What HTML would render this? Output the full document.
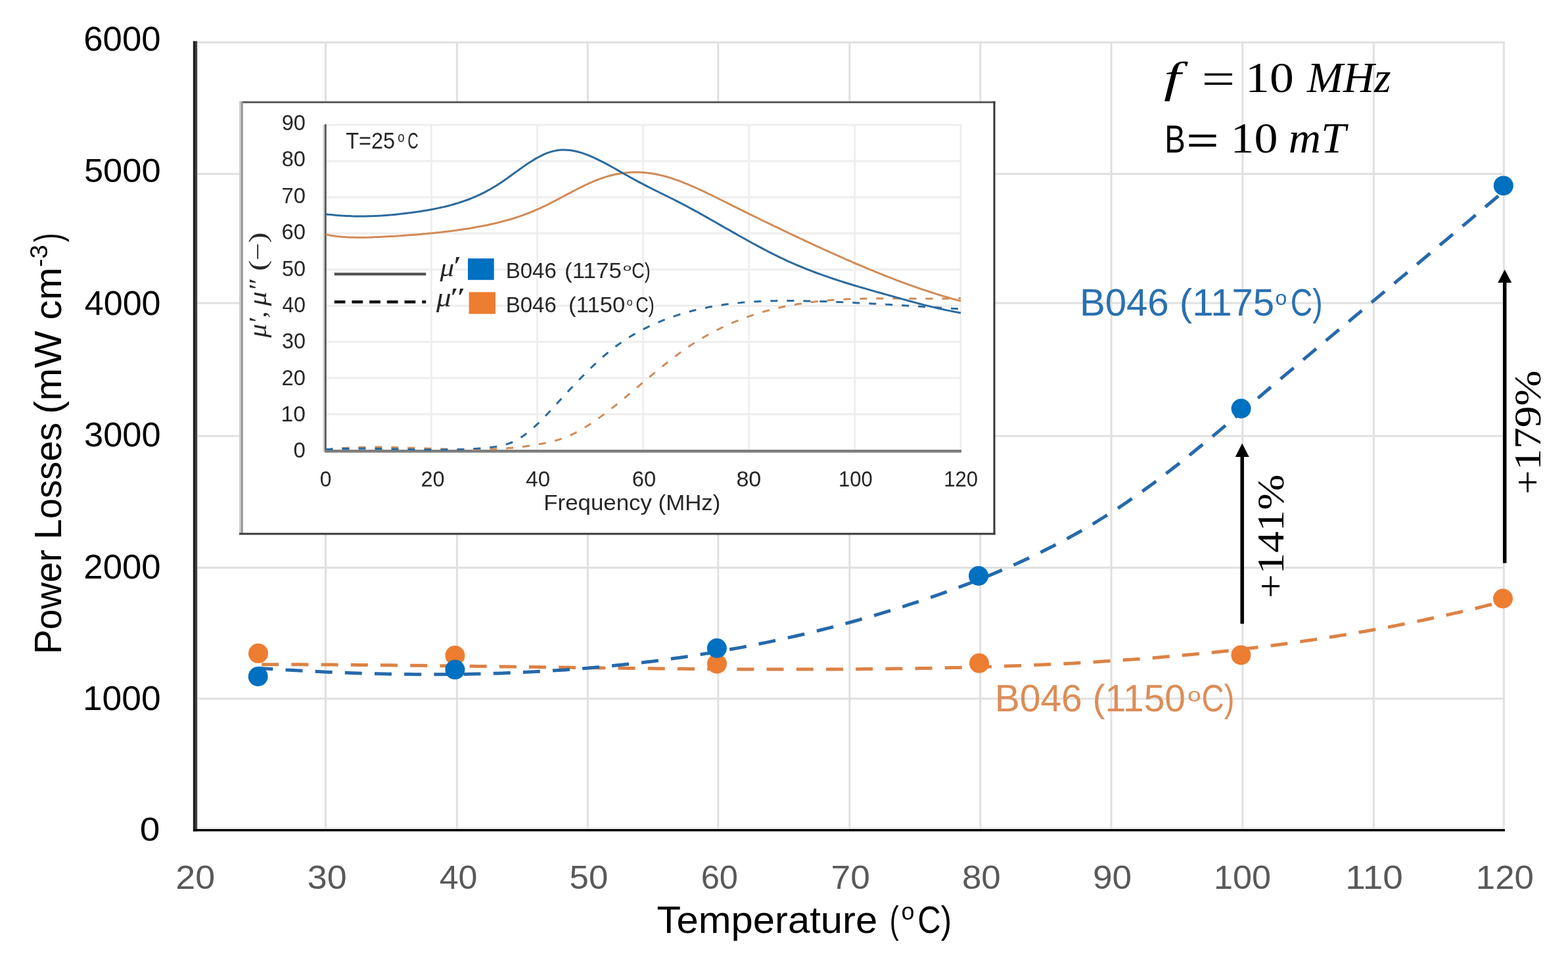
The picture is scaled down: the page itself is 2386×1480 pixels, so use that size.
<!DOCTYPE html>
<html><head><meta charset="utf-8"><title>Power losses vs temperature</title>
<style>html,body{margin:0;padding:0;background:#fff;overflow:hidden}svg{display:block}</style></head>
<body><svg width="2386" height="1480" viewBox="0 0 2386 1480">
<rect x="0" y="0" width="2386" height="1480" fill="#ffffff"/>
<g stroke="#e0e0e0" stroke-width="3"><line x1="297.0" y1="64.4" x2="2289.8" y2="64.4"/><line x1="297.0" y1="264.4" x2="2289.8" y2="264.4"/><line x1="297.0" y1="461.0" x2="2289.8" y2="461.0"/><line x1="297.0" y1="663.2" x2="2289.8" y2="663.2"/><line x1="297.0" y1="863.4" x2="2289.8" y2="863.4"/><line x1="297.0" y1="1062.7" x2="2289.8" y2="1062.7"/><line x1="495.5" y1="62.900000000000006" x2="495.5" y2="1262.3"/><line x1="695.4" y1="62.900000000000006" x2="695.4" y2="1262.3"/><line x1="894.3" y1="62.900000000000006" x2="894.3" y2="1262.3"/><line x1="1092.8" y1="62.900000000000006" x2="1092.8" y2="1262.3"/><line x1="1292.8" y1="62.900000000000006" x2="1292.8" y2="1262.3"/><line x1="1491.8" y1="62.900000000000006" x2="1491.8" y2="1262.3"/><line x1="1691.0" y1="62.900000000000006" x2="1691.0" y2="1262.3"/><line x1="1890.8" y1="62.900000000000006" x2="1890.8" y2="1262.3"/><line x1="2090.3" y1="62.900000000000006" x2="2090.3" y2="1262.3"/><line x1="2288.3" y1="62.900000000000006" x2="2288.3" y2="1262.3"/><line x1="297.0" y1="1259.3" x2="2289.8" y2="1259.3" stroke="#ececec" stroke-width="2"/></g>
<line x1="295.4" y1="62.5" x2="295.4" y2="1264.5" stroke="#1f1f1f" stroke-width="3.2"/>
<line x1="298.6" y1="62.5" x2="298.6" y2="1264.5" stroke="#414141" stroke-width="3.2"/>
<line x1="294" y1="1262.72" x2="2290" y2="1262.72" stroke="#050505" stroke-width="3.45"/>
<text x="127.32" y="77.20" font-family='"Liberation Sans", Arial, sans-serif' font-size="51.13" fill="#000" textLength="117.23" lengthAdjust="spacingAndGlyphs">6000</text>
<text x="127.90" y="277.30" font-family='"Liberation Sans", Arial, sans-serif' font-size="50.85" fill="#000" textLength="116.65" lengthAdjust="spacingAndGlyphs">5000</text>
<text x="128.81" y="479.29" font-family='"Liberation Sans", Arial, sans-serif' font-size="51.98" fill="#000" textLength="115.73" lengthAdjust="spacingAndGlyphs">4000</text>
<text x="128.00" y="679.49" font-family='"Liberation Sans", Arial, sans-serif' font-size="51.98" fill="#000" textLength="116.54" lengthAdjust="spacingAndGlyphs">3000</text>
<text x="127.35" y="879.69" font-family='"Liberation Sans", Arial, sans-serif' font-size="51.98" fill="#000" textLength="117.21" lengthAdjust="spacingAndGlyphs">2000</text>
<text x="125.94" y="1079.89" font-family='"Liberation Sans", Arial, sans-serif' font-size="51.98" fill="#000" textLength="118.65" lengthAdjust="spacingAndGlyphs">1000</text>
<text x="212.85" y="1278.52" font-family='"Liberation Sans", Arial, sans-serif' font-size="49.58" fill="#000" textLength="30.60" lengthAdjust="spacingAndGlyphs">0</text>
<text x="267.30" y="1351.70" font-family='"Liberation Sans", Arial, sans-serif' font-size="50.85" fill="#595959" textLength="59.80" lengthAdjust="spacingAndGlyphs">20</text>
<text x="467.85" y="1351.70" font-family='"Liberation Sans", Arial, sans-serif' font-size="50.85" fill="#595959" textLength="59.85" lengthAdjust="spacingAndGlyphs">30</text>
<text x="668.66" y="1351.70" font-family='"Liberation Sans", Arial, sans-serif' font-size="50.85" fill="#595959" textLength="57.72" lengthAdjust="spacingAndGlyphs">40</text>
<text x="866.64" y="1351.70" font-family='"Liberation Sans", Arial, sans-serif' font-size="50.85" fill="#595959" textLength="58.67" lengthAdjust="spacingAndGlyphs">50</text>
<text x="1066.63" y="1351.70" font-family='"Liberation Sans", Arial, sans-serif' font-size="50.85" fill="#595959" textLength="56.35" lengthAdjust="spacingAndGlyphs">60</text>
<text x="1264.52" y="1351.70" font-family='"Liberation Sans", Arial, sans-serif' font-size="50.85" fill="#595959" textLength="59.32" lengthAdjust="spacingAndGlyphs">70</text>
<text x="1463.95" y="1351.70" font-family='"Liberation Sans", Arial, sans-serif' font-size="50.85" fill="#595959" textLength="58.87" lengthAdjust="spacingAndGlyphs">80</text>
<text x="1662.96" y="1351.70" font-family='"Liberation Sans", Arial, sans-serif' font-size="50.85" fill="#595959" textLength="59.06" lengthAdjust="spacingAndGlyphs">90</text>
<text x="1847.13" y="1351.70" font-family='"Liberation Sans", Arial, sans-serif' font-size="50.85" fill="#595959" textLength="87.01" lengthAdjust="spacingAndGlyphs">100</text>
<text x="2047.25" y="1351.70" font-family='"Liberation Sans", Arial, sans-serif' font-size="50.85" fill="#595959" textLength="87.55" lengthAdjust="spacingAndGlyphs">110</text>
<text x="2245.77" y="1351.70" font-family='"Liberation Sans", Arial, sans-serif' font-size="50.85" fill="#595959" textLength="88.19" lengthAdjust="spacingAndGlyphs">120</text>
<text x="999.48" y="1419.00" font-family='"Liberation Sans", Arial, sans-serif' font-size="57.5" fill="#000" textLength="335.82" lengthAdjust="spacingAndGlyphs">Temperature</text>
<text x="1353.80" y="1419.00" font-family='"Liberation Sans", Arial, sans-serif' font-size="57.5" fill="#000" textLength="13.94" lengthAdjust="spacingAndGlyphs">(</text>
<text x="1371.49" y="1399.03" font-family='"Liberation Sans", Arial, sans-serif' font-size="37.78" fill="#000" textLength="20.02" lengthAdjust="spacingAndGlyphs">o</text>
<text x="1396.21" y="1419.00" font-family='"Liberation Sans", Arial, sans-serif' font-size="57.5" fill="#000" textLength="51.84" lengthAdjust="spacingAndGlyphs">C)</text>
<g transform="translate(92.8,995.5) rotate(-90)"><text x="0.40" y="0.00" font-family='"Liberation Sans", Arial, sans-serif' font-size="58" fill="#000" textLength="352.53" lengthAdjust="spacingAndGlyphs">Power Losses</text><text x="365.78" y="0.00" font-family='"Liberation Sans", Arial, sans-serif' font-size="58" fill="#000" textLength="223.07" lengthAdjust="spacingAndGlyphs">(mW cm</text><text x="589.31" y="-20.57" font-family='"Liberation Sans", Arial, sans-serif' font-size="37.85" fill="#000" textLength="33.87" lengthAdjust="spacingAndGlyphs">-3</text><text x="627.26" y="0.00" font-family='"Liberation Sans", Arial, sans-serif' font-size="58" fill="#000" textLength="13.82" lengthAdjust="spacingAndGlyphs">)</text></g>
<path d="M393.0 1010.7 L402.5 1010.7 L412.0 1010.7 L421.6 1010.7 L431.1 1010.8 L440.6 1010.8 L450.1 1010.8 L459.6 1010.8 L469.1 1010.9 L478.7 1010.9 L488.2 1011.0 L497.7 1011.0 L507.2 1011.1 L516.7 1011.2 L526.2 1011.2 L535.8 1011.3 L545.3 1011.4 L554.8 1011.5 L564.3 1011.5 L573.8 1011.6 L583.4 1011.7 L592.9 1011.8 L602.4 1011.9 L611.9 1012.0 L621.4 1012.1 L630.9 1012.2 L640.5 1012.3 L650.0 1012.4 L659.5 1012.6 L669.0 1012.7 L678.5 1012.8 L688.0 1012.9 L697.6 1013.0 L707.1 1013.1 L716.6 1013.3 L726.1 1013.4 L735.6 1013.5 L745.2 1013.7 L754.7 1013.8 L764.2 1013.9 L773.7 1014.0 L783.2 1014.2 L792.7 1014.3 L802.3 1014.4 L811.8 1014.6 L821.3 1014.7 L830.8 1014.8 L840.3 1014.9 L849.8 1015.1 L859.4 1015.2 L868.9 1015.3 L878.4 1015.5 L887.9 1015.6 L897.4 1015.7 L906.9 1015.8 L916.5 1015.9 L926.0 1016.1 L935.5 1016.2 L945.0 1016.3 L954.5 1016.4 L964.1 1016.5 L973.6 1016.6 L983.1 1016.7 L992.6 1016.8 L1002.1 1016.9 L1011.6 1017.0 L1021.2 1017.1 L1030.7 1017.2 L1040.2 1017.3 L1049.7 1017.4 L1059.2 1017.5 L1068.7 1017.5 L1078.3 1017.6 L1087.8 1017.7 L1097.3 1017.7 L1106.8 1017.8 L1116.3 1017.9 L1125.9 1017.9 L1135.4 1017.9 L1144.9 1018.0 L1154.4 1018.0 L1163.9 1018.0 L1173.4 1018.1 L1183.0 1018.1 L1192.5 1018.1 L1202.0 1018.1 L1211.5 1018.1 L1221.0 1018.1 L1230.5 1018.1 L1240.1 1018.1 L1249.6 1018.0 L1259.1 1018.0 L1268.6 1018.0 L1278.1 1017.9 L1287.7 1017.9 L1297.2 1017.8 L1306.7 1017.7 L1316.2 1017.6 L1325.7 1017.6 L1335.2 1017.5 L1344.8 1017.4 L1354.3 1017.3 L1363.8 1017.1 L1373.3 1017.0 L1382.8 1016.9 L1392.3 1016.7 L1401.9 1016.6 L1411.4 1016.4 L1420.9 1016.2 L1430.4 1016.0 L1439.9 1015.8 L1449.5 1015.6 L1459.0 1015.4 L1468.5 1015.1 L1478.0 1014.9 L1487.5 1014.6 L1497.0 1014.3 L1506.6 1014.0 L1516.1 1013.7 L1525.6 1013.4 L1535.1 1013.1 L1544.6 1012.7 L1554.1 1012.4 L1563.7 1012.0 L1573.2 1011.6 L1582.7 1011.2 L1592.2 1010.8 L1601.7 1010.3 L1611.3 1009.9 L1620.8 1009.4 L1630.3 1008.9 L1639.8 1008.4 L1649.3 1007.8 L1658.8 1007.3 L1668.4 1006.7 L1677.9 1006.1 L1687.4 1005.5 L1696.9 1004.9 L1706.4 1004.2 L1715.9 1003.6 L1725.5 1002.9 L1735.0 1002.2 L1744.5 1001.4 L1754.0 1000.7 L1763.5 999.9 L1773.1 999.1 L1782.6 998.3 L1792.1 997.5 L1801.6 996.6 L1811.1 995.7 L1820.6 994.8 L1830.2 993.9 L1839.7 992.9 L1849.2 991.9 L1858.7 990.9 L1868.2 989.9 L1877.7 988.8 L1887.3 987.7 L1896.8 986.6 L1906.3 985.5 L1915.8 984.3 L1925.3 983.1 L1934.8 981.9 L1944.4 980.7 L1953.9 979.4 L1963.4 978.1 L1972.9 976.8 L1982.4 975.4 L1992.0 974.0 L2001.5 972.6 L2011.0 971.2 L2020.5 969.7 L2030.0 968.2 L2039.5 966.6 L2049.1 965.1 L2058.6 963.5 L2068.1 961.8 L2077.6 960.2 L2087.1 958.5 L2096.6 956.8 L2106.2 955.0 L2115.7 953.2 L2125.2 951.4 L2134.7 949.5 L2144.2 947.6 L2153.8 945.7 L2163.3 943.7 L2172.8 941.7 L2182.3 939.7 L2191.8 937.6 L2201.3 935.5 L2210.9 933.4 L2220.4 931.2 L2229.9 929.0 L2239.4 926.7 L2248.9 924.5 L2258.4 922.1 L2268.0 919.8 L2277.5 917.4 L2287.0 914.9" fill="none" stroke="#dc8245" stroke-width="5" stroke-dasharray="26.0 19.20" stroke-dashoffset="40.01"/>
<circle cx="393" cy="993.8" r="15" fill="#ed7d31"/>
<circle cx="692.4" cy="997" r="15" fill="#ed7d31"/>
<circle cx="1091" cy="1009.7" r="15" fill="#ed7d31"/>
<circle cx="1490" cy="1008.8" r="15" fill="#ed7d31"/>
<circle cx="1888.4" cy="996.4" r="15" fill="#ed7d31"/>
<circle cx="2287" cy="910.5" r="15" fill="#ed7d31"/>
<path d="M393.0 1016.2 L402.5 1016.9 L412.0 1017.5 L421.6 1018.1 L431.1 1018.7 L440.6 1019.2 L450.1 1019.8 L459.7 1020.3 L469.2 1020.8 L478.7 1021.3 L488.2 1021.7 L497.7 1022.2 L507.3 1022.6 L516.8 1023.0 L526.3 1023.3 L535.8 1023.7 L545.3 1024.0 L554.9 1024.3 L564.4 1024.5 L573.9 1024.8 L583.4 1025.0 L593.0 1025.2 L602.5 1025.4 L612.0 1025.5 L621.5 1025.6 L631.0 1025.7 L640.6 1025.8 L650.1 1025.8 L659.6 1025.8 L669.1 1025.8 L678.6 1025.7 L688.2 1025.6 L697.7 1025.5 L707.2 1025.4 L716.7 1025.2 L726.3 1025.0 L735.8 1024.8 L745.3 1024.5 L754.8 1024.2 L764.3 1023.9 L773.9 1023.5 L783.4 1023.2 L792.9 1022.7 L802.4 1022.3 L812.0 1021.8 L821.5 1021.3 L831.0 1020.7 L840.5 1020.1 L850.0 1019.5 L859.6 1018.9 L869.1 1018.2 L878.6 1017.5 L888.1 1016.7 L897.6 1015.9 L907.2 1015.1 L916.7 1014.2 L926.2 1013.3 L935.7 1012.3 L945.3 1011.3 L954.8 1010.3 L964.3 1009.3 L973.8 1008.2 L983.3 1007.0 L992.9 1005.9 L1002.4 1004.6 L1011.9 1003.4 L1021.4 1002.1 L1030.9 1000.7 L1040.5 999.4 L1050.0 998.0 L1059.5 996.5 L1069.0 995.0 L1078.6 993.4 L1088.1 991.9 L1097.6 990.2 L1107.1 988.6 L1116.6 986.8 L1126.2 985.1 L1135.7 983.3 L1145.2 981.4 L1154.7 979.5 L1164.3 977.6 L1173.8 975.6 L1183.3 973.6 L1192.8 971.5 L1202.3 969.4 L1211.9 967.2 L1221.4 965.0 L1230.9 962.7 L1240.4 960.4 L1249.9 958.0 L1259.5 955.6 L1269.0 953.2 L1278.5 950.7 L1288.0 948.1 L1297.6 945.5 L1307.1 942.8 L1316.6 940.1 L1326.1 937.4 L1335.6 934.6 L1345.2 931.7 L1354.7 928.8 L1364.2 925.8 L1373.7 922.8 L1383.2 919.7 L1392.8 916.6 L1402.3 913.4 L1411.8 910.2 L1421.3 906.9 L1430.9 903.6 L1440.4 900.2 L1449.9 896.7 L1459.4 893.2 L1468.9 889.6 L1478.5 886.0 L1488.0 882.3 L1497.5 878.5 L1507.0 874.6 L1516.5 870.6 L1526.1 866.6 L1535.6 862.4 L1545.1 858.2 L1554.6 853.9 L1564.2 849.5 L1573.7 845.0 L1583.2 840.3 L1592.7 835.6 L1602.2 830.8 L1611.8 825.8 L1621.3 820.7 L1630.8 815.5 L1640.3 810.2 L1649.9 804.7 L1659.4 799.1 L1668.9 793.4 L1678.4 787.5 L1687.9 781.5 L1697.5 775.4 L1707.0 769.1 L1716.5 762.6 L1726.0 756.0 L1735.5 749.3 L1745.1 742.4 L1754.6 735.4 L1764.1 728.2 L1773.6 721.0 L1783.2 713.6 L1792.7 706.2 L1802.2 698.6 L1811.7 691.0 L1821.2 683.3 L1830.8 675.5 L1840.3 667.7 L1849.8 659.8 L1859.3 651.8 L1868.8 643.8 L1878.4 635.8 L1887.9 627.8 L1897.4 619.7 L1906.9 611.6 L1916.5 603.6 L1926.0 595.5 L1935.5 587.4 L1945.0 579.4 L1954.5 571.3 L1964.1 563.3 L1973.6 555.3 L1983.1 547.2 L1992.6 539.2 L2002.2 531.2 L2011.7 523.2 L2021.2 515.2 L2030.7 507.2 L2040.2 499.2 L2049.8 491.2 L2059.3 483.2 L2068.8 475.3 L2078.3 467.3 L2087.8 459.3 L2097.4 451.3 L2106.9 443.4 L2116.4 435.4 L2125.9 427.4 L2135.5 419.4 L2145.0 411.5 L2154.5 403.5 L2164.0 395.5 L2173.5 387.5 L2183.1 379.5 L2192.6 371.5 L2202.1 363.6 L2211.6 355.6 L2221.1 347.6 L2230.7 339.6 L2240.2 331.6 L2249.7 323.5 L2259.2 315.5 L2268.8 307.5 L2278.3 299.5 L2287.8 291.4" fill="none" stroke="#2569ab" stroke-width="5" stroke-dasharray="26.0 19.20" stroke-dashoffset="3.62"/>
<circle cx="392.7" cy="1029" r="15" fill="#0070c0"/>
<circle cx="692.4" cy="1018.6" r="15" fill="#0070c0"/>
<circle cx="1090.9" cy="986" r="15" fill="#0070c0"/>
<circle cx="1489" cy="875.9" r="15" fill="#0070c0"/>
<circle cx="1888.6" cy="621.5" r="15" fill="#0070c0"/>
<circle cx="2287.8" cy="282.4" r="15" fill="#0070c0"/>
<text x="1642.90" y="479.50" font-family='"Liberation Sans", Arial, sans-serif' font-size="57" fill="#2a70b0" textLength="296.31" lengthAdjust="spacingAndGlyphs">B046 (1175</text>
<text x="1940.46" y="464.10" font-family='"Liberation Sans", Arial, sans-serif' font-size="30.48" fill="#2a70b0" textLength="17.79" lengthAdjust="spacingAndGlyphs">o</text>
<text x="1963.75" y="479.50" font-family='"Liberation Sans", Arial, sans-serif' font-size="57" fill="#2a70b0" textLength="48.82" lengthAdjust="spacingAndGlyphs">C)</text>
<text x="1513.80" y="1082.00" font-family='"Liberation Sans", Arial, sans-serif' font-size="57" fill="#dc8d57" textLength="290.20" lengthAdjust="spacingAndGlyphs">B046 (1150</text>
<text x="1806.94" y="1066.62" font-family='"Liberation Sans", Arial, sans-serif' font-size="29.02" fill="#dc8d57" textLength="20.61" lengthAdjust="spacingAndGlyphs">o</text>
<text x="1828.60" y="1082.00" font-family='"Liberation Sans", Arial, sans-serif' font-size="57" fill="#dc8d57" textLength="49.83" lengthAdjust="spacingAndGlyphs">C)</text>
<line x1="1890.2" y1="948.7" x2="1890.2" y2="692" stroke="#000" stroke-width="5.5"/>
<path d="M1890.2 674.2 L1900.7 695 L1879.7 695 Z" fill="#000"/>
<line x1="2289.7" y1="856.6" x2="2289.7" y2="427" stroke="#000" stroke-width="5.5"/>
<path d="M2289.7 409.9 L2300.2 430 L2279.2 430 Z" fill="#000"/>
<text transform="translate(1953,910) rotate(-90)" font-family='"Liberation Serif", "Times New Roman", serif' font-size="56" fill="#000" textLength="188.3" lengthAdjust="spacingAndGlyphs">+141%</text>
<text transform="translate(2344.3,752) rotate(-90)" font-family='"Liberation Serif", "Times New Roman", serif' font-size="56" fill="#000" textLength="188.7" lengthAdjust="spacingAndGlyphs">+179%</text>
<text x="1771" y="139.5" font-family='"Liberation Serif", "Times New Roman", serif' font-size="66" font-style="italic" fill="#000" textLength="26" lengthAdjust="spacingAndGlyphs">f</text>
<text x="1828.52" y="144.07" font-family='"Liberation Serif", "Times New Roman", serif' font-size="70.4" fill="#000" textLength="50.78" lengthAdjust="spacingAndGlyphs">=</text>
<text x="1895.1" y="139.5" font-family='"Liberation Serif", "Times New Roman", serif' font-size="66.3" fill="#000" textLength="73.6" lengthAdjust="spacingAndGlyphs">10</text>
<text x="1989" y="139.5" font-family='"Liberation Serif", "Times New Roman", serif' font-size="66" font-style="italic" fill="#000" textLength="127.6" lengthAdjust="spacingAndGlyphs">MHz</text>
<text x="1772.13" y="231.70" font-family='"Liberation Sans", Arial, sans-serif' font-size="58.43" fill="#000" textLength="31.46" lengthAdjust="spacingAndGlyphs">B</text>
<text x="1805.37" y="232.89" font-family='"Liberation Sans", Arial, sans-serif' font-size="57.1" fill="#000" textLength="49.40" lengthAdjust="spacingAndGlyphs">=</text>
<text x="1872.4" y="231.7" font-family='"Liberation Serif", "Times New Roman", serif' font-size="66" fill="#000" textLength="72" lengthAdjust="spacingAndGlyphs">10</text>
<text x="1960.7" y="231.7" font-family='"Liberation Serif", "Times New Roman", serif' font-size="66" font-style="italic" fill="#000" textLength="87.2" lengthAdjust="spacingAndGlyphs">mT</text>
<rect x="366" y="155.4" width="1147" height="656.5" fill="#ffffff"/>
<g stroke="#eeeeee" stroke-width="2.8"><line x1="495.3" y1="630.0" x2="1462.9" y2="630.0"/><line x1="495.3" y1="575.0" x2="1462.9" y2="575.0"/><line x1="495.3" y1="520.0" x2="1462.9" y2="520.0"/><line x1="495.3" y1="465.0" x2="1462.9" y2="465.0"/><line x1="495.3" y1="410.0" x2="1462.9" y2="410.0"/><line x1="495.3" y1="355.0" x2="1462.9" y2="355.0"/><line x1="495.3" y1="300.0" x2="1462.9" y2="300.0"/><line x1="495.3" y1="245.0" x2="1462.9" y2="245.0"/><line x1="495.3" y1="190.0" x2="1462.9" y2="190.0"/><line x1="656.4" y1="189.0" x2="656.4" y2="685.0"/><line x1="817.5" y1="189.0" x2="817.5" y2="685.0"/><line x1="978.6" y1="189.0" x2="978.6" y2="685.0"/><line x1="1139.7" y1="189.0" x2="1139.7" y2="685.0"/><line x1="1300.8" y1="189.0" x2="1300.8" y2="685.0"/><line x1="1461.9" y1="189.0" x2="1461.9" y2="685.0"/></g>
<line x1="492.5" y1="190" x2="492.5" y2="687" stroke="#cfcfcf" stroke-width="2"/>
<line x1="495.3" y1="189" x2="495.3" y2="688" stroke="#5a5a5a" stroke-width="3"/>
<line x1="494" y1="686.2" x2="1463" y2="686.2" stroke="#7d7d7d" stroke-width="4.5"/>
<text x="428.67" y="198.13" font-family='"Liberation Sans", Arial, sans-serif' font-size="32.49" fill="#262626" textLength="36.30" lengthAdjust="spacingAndGlyphs">90</text>
<text x="428.79" y="253.48" font-family='"Liberation Sans", Arial, sans-serif' font-size="32.49" fill="#262626" textLength="36.18" lengthAdjust="spacingAndGlyphs">80</text>
<text x="428.52" y="308.83" font-family='"Liberation Sans", Arial, sans-serif' font-size="32.49" fill="#262626" textLength="36.46" lengthAdjust="spacingAndGlyphs">70</text>
<text x="428.54" y="364.18" font-family='"Liberation Sans", Arial, sans-serif' font-size="32.49" fill="#262626" textLength="36.44" lengthAdjust="spacingAndGlyphs">60</text>
<text x="428.90" y="419.53" font-family='"Liberation Sans", Arial, sans-serif' font-size="32.49" fill="#262626" textLength="36.06" lengthAdjust="spacingAndGlyphs">50</text>
<text x="429.47" y="474.88" font-family='"Liberation Sans", Arial, sans-serif' font-size="32.49" fill="#262626" textLength="35.48" lengthAdjust="spacingAndGlyphs">40</text>
<text x="428.97" y="530.23" font-family='"Liberation Sans", Arial, sans-serif' font-size="32.49" fill="#262626" textLength="36.00" lengthAdjust="spacingAndGlyphs">30</text>
<text x="428.55" y="585.58" font-family='"Liberation Sans", Arial, sans-serif' font-size="32.49" fill="#262626" textLength="36.43" lengthAdjust="spacingAndGlyphs">20</text>
<text x="427.64" y="640.93" font-family='"Liberation Sans", Arial, sans-serif' font-size="32.49" fill="#262626" textLength="37.37" lengthAdjust="spacingAndGlyphs">10</text>
<text x="446.61" y="696.28" font-family='"Liberation Sans", Arial, sans-serif' font-size="32.49" fill="#262626" textLength="18.38" lengthAdjust="spacingAndGlyphs">0</text>
<text x="486.66" y="740.28" font-family='"Liberation Sans", Arial, sans-serif' font-size="33.19" fill="#262626" textLength="17.68" lengthAdjust="spacingAndGlyphs">0</text>
<text x="640.47" y="740.28" font-family='"Liberation Sans", Arial, sans-serif' font-size="33.19" fill="#262626" textLength="36.10" lengthAdjust="spacingAndGlyphs">20</text>
<text x="800.34" y="740.28" font-family='"Liberation Sans", Arial, sans-serif' font-size="33.19" fill="#262626" textLength="36.75" lengthAdjust="spacingAndGlyphs">40</text>
<text x="961.84" y="740.28" font-family='"Liberation Sans", Arial, sans-serif' font-size="33.19" fill="#262626" textLength="36.44" lengthAdjust="spacingAndGlyphs">60</text>
<text x="1120.42" y="740.28" font-family='"Liberation Sans", Arial, sans-serif' font-size="33.19" fill="#262626" textLength="37.91" lengthAdjust="spacingAndGlyphs">80</text>
<text x="1275.94" y="740.28" font-family='"Liberation Sans", Arial, sans-serif' font-size="33.19" fill="#262626" textLength="51.78" lengthAdjust="spacingAndGlyphs">100</text>
<text x="1436.24" y="740.28" font-family='"Liberation Sans", Arial, sans-serif' font-size="33.19" fill="#262626" textLength="51.78" lengthAdjust="spacingAndGlyphs">120</text>
<text x="827.34" y="776.30" font-family='"Liberation Sans", Arial, sans-serif' font-size="33" fill="#262626" textLength="269.02" lengthAdjust="spacingAndGlyphs">Frequency (MHz)</text>
<text x="526.27" y="225.80" font-family='"Liberation Sans", Arial, sans-serif' font-size="34.6" fill="#262626" textLength="74.89" lengthAdjust="spacingAndGlyphs">T=25</text>
<text x="605.22" y="215.59" font-family='"Liberation Sans", Arial, sans-serif' font-size="21.54" fill="#262626" textLength="10.37" lengthAdjust="spacingAndGlyphs">o</text>
<text x="620.35" y="225.80" font-family='"Liberation Sans", Arial, sans-serif' font-size="34.6" fill="#262626" textLength="16.42" lengthAdjust="spacingAndGlyphs">C</text>
<g transform="translate(405,515) rotate(-90)"><text x="1.54" y="0.00" font-family='"Liberation Serif", "Times New Roman", serif' font-size="38" font-style="italic" fill="#262626" textLength="40.06" lengthAdjust="spacingAndGlyphs">μ′,</text><text x="49.74" y="0.00" font-family='"Liberation Serif", "Times New Roman", serif' font-size="38" font-style="italic" fill="#262626" textLength="40.05" lengthAdjust="spacingAndGlyphs">μ″</text><text x="102.90" y="0.00" font-family='"Liberation Serif", "Times New Roman", serif' font-size="38" fill="#262626" textLength="58.80" lengthAdjust="spacingAndGlyphs">(−)</text></g>
<path d="M495.5 684.0 L499.5 683.6 L503.6 683.1 L507.6 682.7 L511.7 682.4 L515.7 682.1 L519.8 681.8 L523.8 681.5 L527.9 681.2 L531.9 681.0 L535.9 680.8 L540.0 680.7 L544.0 680.5 L548.1 680.4 L552.1 680.3 L556.2 680.2 L560.2 680.2 L564.2 680.1 L568.3 680.1 L572.3 680.1 L576.4 680.1 L580.4 680.1 L584.5 680.2 L588.5 680.2 L592.6 680.3 L596.6 680.4 L600.6 680.5 L604.7 680.6 L608.7 680.7 L612.8 680.8 L616.8 680.9 L620.9 681.1 L624.9 681.2 L628.9 681.3 L633.0 681.5 L637.0 681.6 L641.1 681.8 L645.1 681.9 L649.2 682.1 L653.2 682.2 L657.3 682.4 L661.3 682.5 L665.3 682.7 L669.4 682.8 L673.4 682.9 L677.5 683.0 L681.5 683.2 L685.6 683.3 L689.6 683.4 L693.7 683.5 L697.7 683.5 L701.7 683.6 L705.8 683.6 L709.8 683.7 L713.9 683.7 L717.9 683.7 L722.0 683.7 L726.0 683.7 L730.0 683.6 L734.1 683.6 L738.1 683.5 L742.2 683.4 L746.2 683.2 L750.3 683.1 L754.3 682.9 L758.4 682.7 L762.4 682.5 L766.4 682.2 L770.5 681.9 L774.5 681.6 L778.6 681.3 L782.6 680.9 L786.7 680.5 L790.7 680.1 L794.8 679.6 L798.8 679.1 L802.8 678.5 L806.9 678.0 L810.9 677.4 L815.0 676.7 L819.0 676.0 L823.1 675.3 L827.1 674.5 L831.1 673.7 L835.2 672.8 L839.2 671.8 L843.3 670.8 L847.3 669.6 L851.4 668.4 L855.4 667.0 L859.5 665.5 L863.5 663.9 L867.5 662.2 L871.6 660.3 L875.6 658.3 L879.7 656.2 L883.7 653.9 L887.8 651.5 L891.8 649.0 L895.8 646.5 L899.9 643.8 L903.9 641.1 L908.0 638.3 L912.0 635.4 L916.1 632.4 L920.1 629.4 L924.2 626.3 L928.2 623.2 L932.2 620.1 L936.3 616.8 L940.3 613.6 L944.4 610.3 L948.4 607.0 L952.5 603.6 L956.5 600.3 L960.6 596.9 L964.6 593.5 L968.6 590.1 L972.7 586.6 L976.7 583.2 L980.8 579.8 L984.8 576.4 L988.9 573.0 L992.9 569.6 L996.9 566.2 L1001.0 562.9 L1005.0 559.6 L1009.1 556.3 L1013.1 553.1 L1017.2 549.9 L1021.2 546.7 L1025.3 543.6 L1029.3 540.6 L1033.3 537.6 L1037.4 534.7 L1041.4 531.8 L1045.5 529.0 L1049.5 526.3 L1053.6 523.6 L1057.6 521.0 L1061.7 518.5 L1065.7 516.0 L1069.7 513.6 L1073.8 511.3 L1077.8 509.0 L1081.9 506.8 L1085.9 504.6 L1090.0 502.5 L1094.0 500.5 L1098.0 498.5 L1102.1 496.6 L1106.1 494.7 L1110.2 492.9 L1114.2 491.1 L1118.3 489.4 L1122.3 487.8 L1126.4 486.2 L1130.4 484.6 L1134.4 483.1 L1138.5 481.6 L1142.5 480.2 L1146.6 478.9 L1150.6 477.6 L1154.7 476.3 L1158.7 475.1 L1162.7 473.9 L1166.8 472.8 L1170.8 471.7 L1174.9 470.6 L1178.9 469.6 L1183.0 468.7 L1187.0 467.7 L1191.1 466.8 L1195.1 466.0 L1199.1 465.2 L1203.2 464.4 L1207.2 463.7 L1211.3 463.0 L1215.3 462.3 L1219.4 461.7 L1223.4 461.0 L1227.5 460.5 L1231.5 459.9 L1235.5 459.4 L1239.6 458.9 L1243.6 458.5 L1247.7 458.0 L1251.7 457.6 L1255.8 457.3 L1259.8 456.9 L1263.8 456.6 L1267.9 456.3 L1271.9 456.0 L1276.0 455.8 L1280.0 455.5 L1284.1 455.3 L1288.1 455.1 L1292.2 454.9 L1296.2 454.8 L1300.2 454.6 L1304.3 454.5 L1308.3 454.4 L1312.4 454.3 L1316.4 454.2 L1320.5 454.1 L1324.5 454.1 L1328.6 454.0 L1332.6 454.0 L1336.6 454.0 L1340.7 454.0 L1344.7 454.0 L1348.8 454.0 L1352.8 454.0 L1356.9 454.0 L1360.9 454.0 L1364.9 454.0 L1369.0 454.0 L1373.0 454.1 L1377.1 454.1 L1381.1 454.1 L1385.2 454.2 L1389.2 454.2 L1393.3 454.2 L1397.3 454.2 L1401.3 454.3 L1405.4 454.3 L1409.4 454.3 L1413.5 454.3 L1417.5 454.3 L1421.6 454.3 L1425.6 454.3 L1429.6 454.3 L1433.7 454.2 L1437.7 454.2 L1441.8 454.2 L1445.8 454.1 L1449.9 454.0 L1453.9 453.9 L1458.0 453.8 L1462.0 453.7" fill="none" stroke="#d08b57" stroke-width="3" stroke-dasharray="11 14"/>
<path d="M495.5 683.6 L499.5 683.4 L503.6 683.2 L507.6 683.0 L511.7 682.9 L515.7 682.7 L519.8 682.6 L523.8 682.5 L527.9 682.4 L531.9 682.4 L535.9 682.3 L540.0 682.3 L544.0 682.3 L548.1 682.3 L552.1 682.3 L556.2 682.3 L560.2 682.4 L564.2 682.4 L568.3 682.4 L572.3 682.5 L576.4 682.6 L580.4 682.6 L584.5 682.7 L588.5 682.8 L592.6 682.9 L596.6 683.0 L600.6 683.1 L604.7 683.2 L608.7 683.3 L612.8 683.4 L616.8 683.4 L620.9 683.5 L624.9 683.6 L628.9 683.7 L633.0 683.8 L637.0 683.9 L641.1 683.9 L645.1 684.0 L649.2 684.0 L653.2 684.1 L657.3 684.1 L661.3 684.1 L665.3 684.1 L669.4 684.1 L673.4 684.1 L677.5 684.1 L681.5 684.0 L685.6 684.0 L689.6 683.9 L693.7 683.8 L697.7 683.7 L701.7 683.5 L705.8 683.4 L709.8 683.2 L713.9 683.0 L717.9 682.8 L722.0 682.5 L726.0 682.3 L730.0 682.0 L734.1 681.7 L738.1 681.3 L742.2 680.9 L746.2 680.5 L750.3 680.0 L754.3 679.5 L758.4 678.8 L762.4 678.0 L766.4 677.0 L770.5 675.9 L774.5 674.5 L778.6 673.0 L782.6 671.2 L786.7 669.1 L790.7 666.7 L794.8 664.1 L798.8 661.2 L802.8 658.1 L806.9 654.8 L810.9 651.3 L815.0 647.6 L819.0 643.8 L823.1 639.8 L827.1 635.7 L831.1 631.5 L835.2 627.2 L839.2 622.9 L843.3 618.5 L847.3 614.1 L851.4 609.6 L855.4 605.2 L859.5 600.8 L863.5 596.4 L867.5 592.1 L871.6 587.8 L875.6 583.5 L879.7 579.3 L883.7 575.1 L887.8 571.0 L891.8 566.9 L895.8 562.9 L899.9 559.0 L903.9 555.1 L908.0 551.3 L912.0 547.6 L916.1 544.0 L920.1 540.5 L924.2 537.1 L928.2 533.8 L932.2 530.6 L936.3 527.4 L940.3 524.5 L944.4 521.6 L948.4 518.8 L952.5 516.1 L956.5 513.5 L960.6 511.0 L964.6 508.6 L968.6 506.3 L972.7 504.0 L976.7 501.9 L980.8 499.8 L984.8 497.8 L988.9 495.9 L992.9 494.0 L996.9 492.2 L1001.0 490.5 L1005.0 488.8 L1009.1 487.2 L1013.1 485.6 L1017.2 484.1 L1021.2 482.7 L1025.3 481.3 L1029.3 479.9 L1033.3 478.6 L1037.4 477.4 L1041.4 476.2 L1045.5 475.0 L1049.5 473.9 L1053.6 472.8 L1057.6 471.8 L1061.7 470.8 L1065.7 469.9 L1069.7 469.0 L1073.8 468.2 L1077.8 467.3 L1081.9 466.6 L1085.9 465.8 L1090.0 465.1 L1094.0 464.5 L1098.0 463.9 L1102.1 463.3 L1106.1 462.7 L1110.2 462.2 L1114.2 461.7 L1118.3 461.3 L1122.3 460.8 L1126.4 460.5 L1130.4 460.1 L1134.4 459.8 L1138.5 459.4 L1142.5 459.2 L1146.6 458.9 L1150.6 458.7 L1154.7 458.5 L1158.7 458.3 L1162.7 458.1 L1166.8 458.0 L1170.8 457.9 L1174.9 457.8 L1178.9 457.7 L1183.0 457.6 L1187.0 457.6 L1191.1 457.6 L1195.1 457.5 L1199.1 457.5 L1203.2 457.6 L1207.2 457.6 L1211.3 457.6 L1215.3 457.7 L1219.4 457.7 L1223.4 457.8 L1227.5 457.9 L1231.5 458.0 L1235.5 458.1 L1239.6 458.2 L1243.6 458.3 L1247.7 458.4 L1251.7 458.5 L1255.8 458.6 L1259.8 458.8 L1263.8 458.9 L1267.9 459.1 L1271.9 459.2 L1276.0 459.4 L1280.0 459.6 L1284.1 459.7 L1288.1 459.9 L1292.2 460.1 L1296.2 460.3 L1300.2 460.5 L1304.3 460.7 L1308.3 460.9 L1312.4 461.1 L1316.4 461.3 L1320.5 461.5 L1324.5 461.7 L1328.6 461.9 L1332.6 462.1 L1336.6 462.4 L1340.7 462.6 L1344.7 462.8 L1348.8 463.1 L1352.8 463.3 L1356.9 463.6 L1360.9 463.8 L1364.9 464.0 L1369.0 464.3 L1373.0 464.5 L1377.1 464.8 L1381.1 465.0 L1385.2 465.3 L1389.2 465.5 L1393.3 465.8 L1397.3 466.0 L1401.3 466.3 L1405.4 466.5 L1409.4 466.8 L1413.5 467.0 L1417.5 467.3 L1421.6 467.6 L1425.6 467.8 L1429.6 468.1 L1433.7 468.3 L1437.7 468.5 L1441.8 468.8 L1445.8 469.0 L1449.9 469.3 L1453.9 469.5 L1458.0 469.8 L1462.0 470.0" fill="none" stroke="#2a6a9e" stroke-width="3" stroke-dasharray="11 14"/>
<path d="M495.5 356.6 L499.5 357.4 L503.6 358.2 L507.6 358.8 L511.7 359.4 L515.7 359.8 L519.8 360.2 L523.8 360.5 L527.9 360.8 L531.9 361.0 L535.9 361.1 L540.0 361.2 L544.0 361.3 L548.1 361.3 L552.1 361.2 L556.2 361.2 L560.2 361.1 L564.2 360.9 L568.3 360.8 L572.3 360.6 L576.4 360.4 L580.4 360.2 L584.5 360.0 L588.5 359.8 L592.6 359.6 L596.6 359.4 L600.6 359.2 L604.7 358.9 L608.7 358.7 L612.8 358.4 L616.8 358.1 L620.9 357.8 L624.9 357.5 L628.9 357.2 L633.0 356.9 L637.0 356.6 L641.1 356.2 L645.1 355.8 L649.2 355.5 L653.2 355.1 L657.3 354.7 L661.3 354.3 L665.3 353.8 L669.4 353.4 L673.4 352.9 L677.5 352.4 L681.5 351.9 L685.6 351.4 L689.6 350.9 L693.7 350.4 L697.7 349.8 L701.7 349.2 L705.8 348.6 L709.8 348.0 L713.9 347.4 L717.9 346.7 L722.0 346.0 L726.0 345.3 L730.0 344.6 L734.1 343.8 L738.1 343.0 L742.2 342.2 L746.2 341.3 L750.3 340.4 L754.3 339.5 L758.4 338.5 L762.4 337.5 L766.4 336.4 L770.5 335.3 L774.5 334.2 L778.6 333.0 L782.6 331.7 L786.7 330.4 L790.7 329.1 L794.8 327.7 L798.8 326.2 L802.8 324.7 L806.9 323.1 L810.9 321.5 L815.0 319.7 L819.0 318.0 L823.1 316.1 L827.1 314.2 L831.1 312.3 L835.2 310.3 L839.2 308.2 L843.3 306.1 L847.3 304.0 L851.4 301.9 L855.4 299.7 L859.5 297.6 L863.5 295.4 L867.5 293.3 L871.6 291.1 L875.6 289.0 L879.7 287.0 L883.7 284.9 L887.8 282.9 L891.8 281.0 L895.8 279.1 L899.9 277.3 L903.9 275.6 L908.0 274.0 L912.0 272.4 L916.1 271.0 L920.1 269.6 L924.2 268.4 L928.2 267.2 L932.2 266.2 L936.3 265.3 L940.3 264.5 L944.4 263.8 L948.4 263.2 L952.5 262.7 L956.5 262.4 L960.6 262.1 L964.6 262.0 L968.6 261.9 L972.7 262.0 L976.7 262.2 L980.8 262.5 L984.8 262.9 L988.9 263.4 L992.9 264.0 L996.9 264.7 L1001.0 265.5 L1005.0 266.5 L1009.1 267.4 L1013.1 268.5 L1017.2 269.7 L1021.2 270.9 L1025.3 272.3 L1029.3 273.7 L1033.3 275.1 L1037.4 276.7 L1041.4 278.3 L1045.5 279.9 L1049.5 281.6 L1053.6 283.4 L1057.6 285.1 L1061.7 287.0 L1065.7 288.8 L1069.7 290.7 L1073.8 292.6 L1077.8 294.6 L1081.9 296.5 L1085.9 298.5 L1090.0 300.5 L1094.0 302.5 L1098.0 304.5 L1102.1 306.5 L1106.1 308.5 L1110.2 310.6 L1114.2 312.6 L1118.3 314.6 L1122.3 316.6 L1126.4 318.6 L1130.4 320.6 L1134.4 322.6 L1138.5 324.6 L1142.5 326.6 L1146.6 328.6 L1150.6 330.5 L1154.7 332.5 L1158.7 334.5 L1162.7 336.5 L1166.8 338.4 L1170.8 340.4 L1174.9 342.3 L1178.9 344.3 L1183.0 346.2 L1187.0 348.2 L1191.1 350.1 L1195.1 352.0 L1199.1 354.0 L1203.2 355.9 L1207.2 357.8 L1211.3 359.7 L1215.3 361.6 L1219.4 363.5 L1223.4 365.4 L1227.5 367.3 L1231.5 369.2 L1235.5 371.0 L1239.6 372.9 L1243.6 374.8 L1247.7 376.6 L1251.7 378.5 L1255.8 380.3 L1259.8 382.2 L1263.8 384.0 L1267.9 385.8 L1271.9 387.6 L1276.0 389.4 L1280.0 391.2 L1284.1 393.0 L1288.1 394.8 L1292.2 396.5 L1296.2 398.3 L1300.2 400.0 L1304.3 401.8 L1308.3 403.5 L1312.4 405.2 L1316.4 406.9 L1320.5 408.6 L1324.5 410.3 L1328.6 411.9 L1332.6 413.6 L1336.6 415.2 L1340.7 416.9 L1344.7 418.5 L1348.8 420.1 L1352.8 421.7 L1356.9 423.2 L1360.9 424.8 L1364.9 426.3 L1369.0 427.9 L1373.0 429.4 L1377.1 430.9 L1381.1 432.3 L1385.2 433.8 L1389.2 435.2 L1393.3 436.7 L1397.3 438.1 L1401.3 439.5 L1405.4 440.8 L1409.4 442.2 L1413.5 443.5 L1417.5 444.8 L1421.6 446.1 L1425.6 447.4 L1429.6 448.7 L1433.7 449.9 L1437.7 451.1 L1441.8 452.3 L1445.8 453.5 L1449.9 454.6 L1453.9 455.8 L1458.0 456.9 L1462.0 457.9" fill="none" stroke="#d08b57" stroke-width="3"/>
<path d="M495.5 325.7 L499.5 326.2 L503.6 326.6 L507.6 327.0 L511.7 327.4 L515.7 327.7 L519.8 328.0 L523.8 328.2 L527.9 328.5 L531.9 328.6 L535.9 328.8 L540.0 328.9 L544.0 328.9 L548.1 329.0 L552.1 328.9 L556.2 328.9 L560.2 328.8 L564.2 328.7 L568.3 328.6 L572.3 328.4 L576.4 328.2 L580.4 328.0 L584.5 327.7 L588.5 327.4 L592.6 327.1 L596.6 326.8 L600.6 326.4 L604.7 326.0 L608.7 325.6 L612.8 325.1 L616.8 324.6 L620.9 324.1 L624.9 323.6 L628.9 323.0 L633.0 322.5 L637.0 321.9 L641.1 321.2 L645.1 320.6 L649.2 319.9 L653.2 319.2 L657.3 318.5 L661.3 317.7 L665.3 316.9 L669.4 316.0 L673.4 315.1 L677.5 314.2 L681.5 313.2 L685.6 312.1 L689.6 311.0 L693.7 309.8 L697.7 308.6 L701.7 307.3 L705.8 305.9 L709.8 304.5 L713.9 303.0 L717.9 301.4 L722.0 299.7 L726.0 297.9 L730.0 296.1 L734.1 294.1 L738.1 292.1 L742.2 289.9 L746.2 287.7 L750.3 285.3 L754.3 282.9 L758.4 280.3 L762.4 277.7 L766.4 274.9 L770.5 272.1 L774.5 269.2 L778.6 266.3 L782.6 263.3 L786.7 260.4 L790.7 257.5 L794.8 254.6 L798.8 251.8 L802.8 249.1 L806.9 246.4 L810.9 243.9 L815.0 241.4 L819.0 239.2 L823.1 237.1 L827.1 235.1 L831.1 233.4 L835.2 231.9 L839.2 230.6 L843.3 229.6 L847.3 228.8 L851.4 228.3 L855.4 228.1 L859.5 228.0 L863.5 228.2 L867.5 228.6 L871.6 229.2 L875.6 230.0 L879.7 231.0 L883.7 232.1 L887.8 233.4 L891.8 234.9 L895.8 236.4 L899.9 238.1 L903.9 239.9 L908.0 241.8 L912.0 243.8 L916.1 245.8 L920.1 247.9 L924.2 250.1 L928.2 252.3 L932.2 254.5 L936.3 256.8 L940.3 259.1 L944.4 261.4 L948.4 263.7 L952.5 266.0 L956.5 268.2 L960.6 270.5 L964.6 272.7 L968.6 274.9 L972.7 277.1 L976.7 279.2 L980.8 281.3 L984.8 283.4 L988.9 285.5 L992.9 287.5 L996.9 289.5 L1001.0 291.5 L1005.0 293.5 L1009.1 295.5 L1013.1 297.5 L1017.2 299.5 L1021.2 301.5 L1025.3 303.5 L1029.3 305.6 L1033.3 307.6 L1037.4 309.7 L1041.4 311.9 L1045.5 314.0 L1049.5 316.2 L1053.6 318.4 L1057.6 320.6 L1061.7 322.8 L1065.7 325.1 L1069.7 327.3 L1073.8 329.6 L1077.8 331.9 L1081.9 334.2 L1085.9 336.5 L1090.0 338.8 L1094.0 341.1 L1098.0 343.4 L1102.1 345.7 L1106.1 348.0 L1110.2 350.3 L1114.2 352.6 L1118.3 354.9 L1122.3 357.2 L1126.4 359.5 L1130.4 361.8 L1134.4 364.0 L1138.5 366.3 L1142.5 368.5 L1146.6 370.7 L1150.6 372.9 L1154.7 375.1 L1158.7 377.2 L1162.7 379.4 L1166.8 381.5 L1170.8 383.6 L1174.9 385.6 L1178.9 387.6 L1183.0 389.6 L1187.0 391.6 L1191.1 393.5 L1195.1 395.4 L1199.1 397.3 L1203.2 399.1 L1207.2 400.9 L1211.3 402.6 L1215.3 404.3 L1219.4 406.0 L1223.4 407.7 L1227.5 409.3 L1231.5 410.9 L1235.5 412.4 L1239.6 414.0 L1243.6 415.5 L1247.7 416.9 L1251.7 418.4 L1255.8 419.8 L1259.8 421.2 L1263.8 422.6 L1267.9 424.0 L1271.9 425.3 L1276.0 426.6 L1280.0 427.9 L1284.1 429.2 L1288.1 430.5 L1292.2 431.7 L1296.2 433.0 L1300.2 434.2 L1304.3 435.4 L1308.3 436.6 L1312.4 437.8 L1316.4 438.9 L1320.5 440.1 L1324.5 441.3 L1328.6 442.4 L1332.6 443.6 L1336.6 444.7 L1340.7 445.8 L1344.7 447.0 L1348.8 448.1 L1352.8 449.2 L1356.9 450.4 L1360.9 451.5 L1364.9 452.6 L1369.0 453.7 L1373.0 454.9 L1377.1 456.0 L1381.1 457.1 L1385.2 458.2 L1389.2 459.3 L1393.3 460.4 L1397.3 461.5 L1401.3 462.5 L1405.4 463.6 L1409.4 464.6 L1413.5 465.6 L1417.5 466.6 L1421.6 467.6 L1425.6 468.6 L1429.6 469.5 L1433.7 470.4 L1437.7 471.3 L1441.8 472.1 L1445.8 472.9 L1449.9 473.7 L1453.9 474.5 L1458.0 475.2 L1462.0 475.9" fill="none" stroke="#2a6a9e" stroke-width="3"/>
<line x1="508.7" y1="416.8" x2="648.2" y2="416.8" stroke="#555" stroke-width="4.2"/>
<line x1="508.7" y1="459.3" x2="648.2" y2="459.3" stroke="#111" stroke-width="4.5" stroke-dasharray="16.8 9.9"/>
<rect x="712" y="393.1" width="39.7" height="32.7" fill="#0070c0"/>
<rect x="713.6" y="444.3" width="40.3" height="33.2" fill="#ed7d31"/>
<text x="669.44" y="419.67" font-family='"Liberation Serif", "Times New Roman", serif' font-size="38.94" font-style="italic" fill="#262626" textLength="21.59" lengthAdjust="spacingAndGlyphs">μ</text>
<text x="690.23" y="416.60" font-family='"Liberation Serif", "Times New Roman", serif' font-size="40" fill="#262626" textLength="11.84" lengthAdjust="spacingAndGlyphs">′</text>
<text x="664.04" y="466.15" font-family='"Liberation Serif", "Times New Roman", serif' font-size="40.42" font-style="italic" fill="#262626" textLength="22.65" lengthAdjust="spacingAndGlyphs">μ</text>
<text x="684.94" y="464.50" font-family='"Liberation Serif", "Times New Roman", serif' font-size="40" fill="#262626" textLength="23.52" lengthAdjust="spacingAndGlyphs">″</text>
<text x="769.69" y="422.60" font-family='"Liberation Sans", Arial, sans-serif' font-size="34" fill="#262626" textLength="77.16" lengthAdjust="spacingAndGlyphs">B046</text>
<text x="859.09" y="422.60" font-family='"Liberation Sans", Arial, sans-serif' font-size="34" fill="#262626" textLength="86.94" lengthAdjust="spacingAndGlyphs">(1175</text>
<text x="948.02" y="411.85" font-family='"Liberation Sans", Arial, sans-serif' font-size="15.52" fill="#262626" textLength="12.96" lengthAdjust="spacingAndGlyphs">o</text>
<text x="961.22" y="422.60" font-family='"Liberation Sans", Arial, sans-serif' font-size="34" fill="#262626" textLength="28.66" lengthAdjust="spacingAndGlyphs">C)</text>
<text x="769.69" y="475.40" font-family='"Liberation Sans", Arial, sans-serif' font-size="34" fill="#262626" textLength="77.16" lengthAdjust="spacingAndGlyphs">B046</text>
<text x="865.11" y="475.40" font-family='"Liberation Sans", Arial, sans-serif' font-size="34" fill="#262626" textLength="86.21" lengthAdjust="spacingAndGlyphs">(1150</text>
<text x="953.72" y="465.34" font-family='"Liberation Sans", Arial, sans-serif' font-size="16.43" fill="#262626" textLength="8.95" lengthAdjust="spacingAndGlyphs">o</text>
<text x="967.22" y="475.40" font-family='"Liberation Sans", Arial, sans-serif' font-size="34" fill="#262626" textLength="28.66" lengthAdjust="spacingAndGlyphs">C)</text>
<line x1="364.5" y1="155.4" x2="1514.5" y2="155.4" stroke="#5f5f5f" stroke-width="3"/>
<line x1="365.5" y1="154" x2="365.5" y2="813" stroke="#cdcdcd" stroke-width="3"/>
<line x1="368.3" y1="154" x2="368.3" y2="813" stroke="#969696" stroke-width="3"/>
<line x1="1513" y1="154" x2="1513" y2="813.3" stroke="#383838" stroke-width="3"/>
<line x1="364" y1="811.9" x2="1514.5" y2="811.9" stroke="#3a3a3a" stroke-width="3"/>
</svg></body></html>
